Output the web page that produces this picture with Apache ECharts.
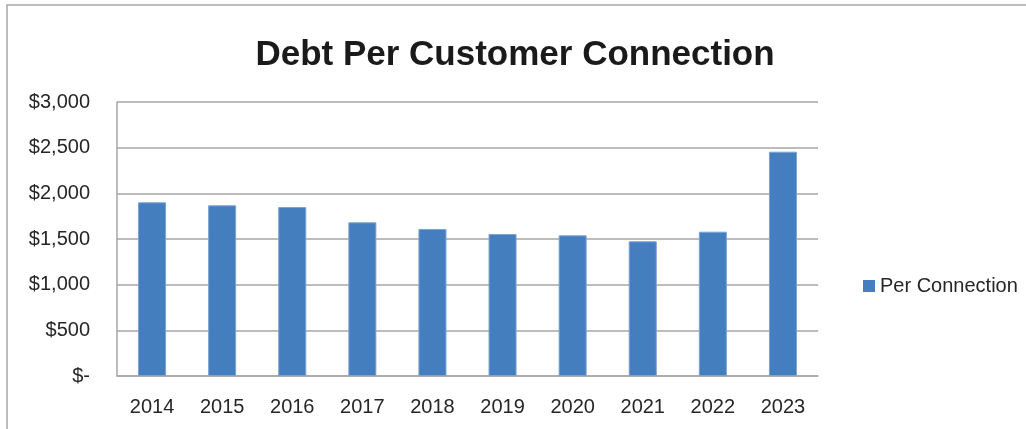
<!DOCTYPE html>
<html>
<head>
<meta charset="utf-8">
<script src="https://cdn.jsdelivr.net/npm/echarts@6/dist/echarts.min.js"></script>
<style>
  html, body { margin: 0; padding: 0; background: #ffffff; }
  #chart { width: 1026px; height: 429px; }
</style>
</head>
<body>
<div id="chart"></div>
<script>
// Debt per customer connection, by year
const years = ['2014', '2015', '2016', '2017', '2018', '2019', '2020', '2021', '2022', '2023'];
const perConnection = [1902, 1869, 1850, 1683, 1610, 1555, 1540, 1475, 1580, 2456];
const yTicks = { min: 0, max: 3000, step: 500 };

const FONT = '"Liberation Sans", Arial, sans-serif';
const chart = echarts.init(document.getElementById('chart'), null, { renderer: 'canvas' });

function money(v) {
  if (v === 0) return '$-';
  return '$' + v.toLocaleString('en-US');
}

chart.setOption({
  animation: false,
  backgroundColor: '#ffffff',
  title: {
    text: 'Debt Per Customer Connection',
    left: 510,
    textAlign: 'center',
    top: 33,
    textStyle: { fontFamily: FONT, fontSize: 35, fontWeight: 'bold', color: '#1a1a1a' }
  },
  graphic: [{
    type: 'rect',
    shape: { x: 7, y: 5, width: 1040, height: 440 },
    style: { fill: 'none', stroke: '#a6a6a6', lineWidth: 1.5 },
    silent: true
  }],
  legend: {
    data: ['Per Connection'],
    left: 858,
    top: 271,
    icon: 'rect',
    itemWidth: 12,
    itemHeight: 12,
    itemStyle: { borderWidth: 0 },
    textStyle: { fontFamily: FONT, fontSize: 20, color: '#262626' }
  },
  grid: { left: 117, top: 102, width: 701, height: 274, containLabel: false },
  xAxis: {
    type: 'category',
    data: years,
    axisLine: { lineStyle: { color: '#a6a6a6', width: 1.5 } },
    axisTick: { show: false },
    axisLabel: { margin: 21, fontFamily: FONT, fontSize: 20, color: '#262626' }
  },
  yAxis: {
    type: 'value',
    min: yTicks.min,
    max: yTicks.max,
    interval: yTicks.step,
    axisLine: { show: true, lineStyle: { color: '#a6a6a6', width: 1.5 } },
    axisTick: { show: false },
    splitLine: { lineStyle: { color: '#a6a6a6', width: 1.5 } },
    axisLabel: { margin: 27, fontFamily: FONT, fontSize: 20, color: '#262626', formatter: money }
  },
  series: [{
    name: 'Per Connection',
    type: 'bar',
    data: perConnection,
    barWidth: '40%',
    itemStyle: { color: '#457ebf', borderColor: '#7ea3d3', borderWidth: 1 }
  }]
});
</script>
</body>
</html>
